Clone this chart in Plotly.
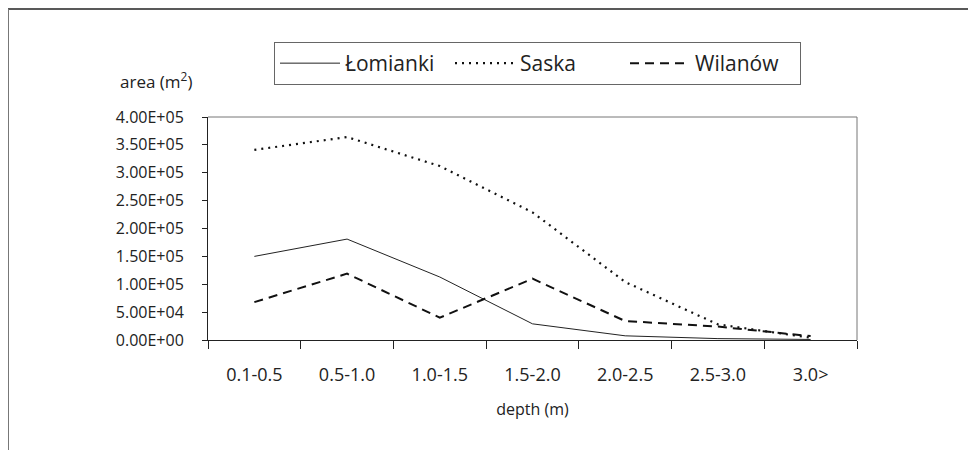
import plotly.graph_objects as go

categories = ["0.1-0.5", "0.5-1.0", "1.0-1.5", "1.5-2.0", "2.0-2.5", "2.5-3.0", "3.0>"]
lomianki = [1.50e5, 1.81e5, 1.13e5, 2.9e4, 7.5e3, 2.5e3, 1.0e3]
saska = [3.41e5, 3.64e5, 3.12e5, 2.29e5, 1.04e5, 2.8e4, 4.0e3]
wilanow = [6.8e4, 1.19e5, 4.0e4, 1.10e5, 3.4e4, 2.4e4, 7.0e3]
ytick_vals = [0, 5e4, 1e5, 1.5e5, 2e5, 2.5e5, 3e5, 3.5e5, 4e5]
ytick_text = [f"{v:.2E}" for v in ytick_vals]

FONT = "Open Sans"
OFF = 8  # page body margin
W, H = 976 - OFF, 450 - OFF
L, R, T, B = 208 - OFF, 857 - OFF, 117 - OFF, 340 - OFF  # plot area edges in figure pixels

def px(x):  # page pixel -> paper
    return (x - OFF - L) / (R - L)

def py(y):
    return (B - (y - OFF)) / (B - T)

fig = go.Figure()
fig.add_trace(go.Scatter(x=categories, y=lomianki, mode="lines", name="Łomianki",
                         line=dict(color="#222222", width=1)))
fig.add_trace(go.Scatter(x=categories, y=saska, mode="lines", name="Saska",
                         line=dict(color="#111111", width=2.2, dash="2px,5px")))
fig.add_trace(go.Scatter(x=categories, y=wilanow, mode="lines", name="Wilanów",
                         line=dict(color="#111111", width=2, dash="9px,6px")))

fig.update_layout(
    width=W, height=H,
    margin=dict(l=L, r=W - R, t=T, b=H - B),
    paper_bgcolor="white", plot_bgcolor="white",
    font=dict(family=FONT, color="#222222"),
    showlegend=True,
    legend=dict(
        orientation="h",
        x=px(274), y=py(42), xanchor="left", yanchor="top",
        bordercolor="#666666", borderwidth=1,
        font=dict(size=21, family=FONT, color="#222222"),
        entrywidth=100, entrywidthmode="pixels", itemwidth=60,
    ),
    xaxis=dict(
        type="category", tickson="boundaries", range=[-0.5, 6.5],
        showline=True, linecolor="#222222", linewidth=1,
        ticks="outside", ticklen=8, tickcolor="#222222", tickwidth=1,
        showgrid=False, zeroline=False, ticklabelstandoff=18,
        tickfont=dict(size=18, family=FONT, color="#222222"),
        title=dict(text="depth (m)", font=dict(size=16, family=FONT, color="#222222"), standoff=19),
    ),
    yaxis=dict(
        range=[0, 4e5], tickvals=ytick_vals, ticktext=ytick_text,
        showline=True, linecolor="#222222", linewidth=1,
        ticks="outside", ticklen=5, tickcolor="#222222", tickwidth=1,
        showgrid=False, zeroline=False, ticklabelstandoff=15,
        tickfont=dict(size=16, family=FONT, color="#222222"),
    ),
    shapes=[
        dict(type="line", xref="paper", yref="paper", x0=0, x1=1, y0=1, y1=1,
             line=dict(color="#777777", width=1)),
        dict(type="line", xref="paper", yref="paper", x0=1, x1=1, y0=0, y1=1,
             line=dict(color="#777777", width=1)),
        dict(type="line", xref="paper", yref="paper", x0=px(8), x1=px(990), y0=py(9), y1=py(9),
             line=dict(color="#222222", width=1.5)),
        dict(type="line", xref="paper", yref="paper", x0=px(8), x1=px(8), y0=py(9), y1=py(460),
             line=dict(color="#777777", width=2)),
    ],
    annotations=[
        dict(text="area (m<sup>2</sup>)", xref="paper", yref="paper",
             x=px(156), y=py(80), xanchor="center", yanchor="middle",
             showarrow=False, font=dict(size=17, family=FONT, color="#222222")),
    ],
)

fig.write_html("out.html")
